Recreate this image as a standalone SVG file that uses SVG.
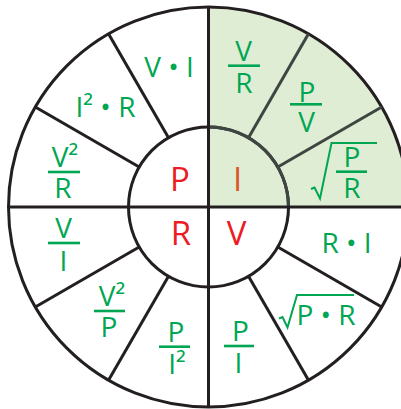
<svg xmlns="http://www.w3.org/2000/svg" width="401" height="409" viewBox="0 0 401 409">
<style>
.ln{stroke:#231f20;stroke-width:3;fill:none}
.lg{stroke:#3f4541;stroke-width:3;fill:none}
.t{font-family:"Open Sans","Liberation Sans",sans-serif;font-size:28px;fill:#00a651;text-anchor:middle}
.c{font-family:"Open Sans","Liberation Sans",sans-serif;font-size:33px;text-anchor:middle}
.bar{stroke:#00a651;stroke-width:2.6;fill:none}
.rad{stroke:#00a651;stroke-width:2;fill:none;stroke-linejoin:miter}
</style>
<rect width="401" height="409" fill="#ffffff"/>
<g id="wheel">
<path d="M208.5,207 L208.5,7 A200,200 0 0 1 408.5,207 Z" fill="#e0edd5"/>
<circle class="ln" cx="208.5" cy="207" r="200"/>
<circle class="ln" cx="208.5" cy="207" r="80"/>
<path class="lg" d="M208.5,127 A80,80 0 0 1 288.5,207"/>
<line class="ln" x1="208.5" y1="7" x2="208.5" y2="407"/>
<line class="ln" x1="8.5" y1="207" x2="408.5" y2="207"/>
<line class="lg" x1="277.8" y1="167" x2="381.7" y2="107"/>
<line class="lg" x1="248.5" y1="137.7" x2="308.5" y2="33.8"/>
<line class="ln" x1="168.5" y1="137.7" x2="108.5" y2="33.8"/>
<line class="ln" x1="139.2" y1="167" x2="35.3" y2="107"/>
<line class="ln" x1="139.2" y1="247" x2="35.3" y2="307"/>
<line class="ln" x1="168.5" y1="276.3" x2="108.5" y2="380.2"/>
<line class="ln" x1="248.5" y1="276.3" x2="308.5" y2="380.2"/>
<line class="ln" x1="277.8" y1="247" x2="381.7" y2="307"/>
</g>
<g id="center-P"><text class="c" x="180" y="190.5" fill="#ed1c24">P</text></g>
<g id="center-I"><text class="c" x="237.5" y="190.5" fill="#d95a2b">I</text></g>
<g id="center-R"><text class="c" x="181" y="245" fill="#ed1c24">R</text></g>
<g id="center-V"><text class="c" x="236.5" y="245" fill="#ed1c24">V</text></g>
<g id="p-vi"><text class="t" x="169" y="77">V • I</text></g>
<g id="p-i2r"><text class="t" x="105.5" y="117">I² • R</text></g>
<g id="p-v2r">
<text class="t" x="65" y="167">V²</text>
<line class="bar" x1="48" y1="172" x2="80" y2="172"/>
<text class="t" x="63" y="198">R</text>
</g>
<g id="i-vr">
<text class="t" x="243.5" y="61">V</text>
<line class="bar" x1="228" y1="65.7" x2="260" y2="65.7"/>
<text class="t" x="244" y="93">R</text>
</g>
<g id="i-pv">
<text class="t" x="307" y="102">P</text>
<line class="bar" x1="290" y1="104.3" x2="322" y2="104.3"/>
<text class="t" x="306.5" y="131.7">V</text>
</g>
<g id="i-sqrtpr">
<polyline class="rad" points="311,189 314.5,187.5 320,198.5 331.5,143 377,143"/>
<text class="t" x="352" y="166.7">P</text>
<line class="bar" x1="336" y1="171.7" x2="367" y2="171.7"/>
<text class="t" x="352" y="198">R</text>
</g>
<g id="r-vi">
<text class="t" x="63.5" y="238">V</text>
<line class="bar" x1="48" y1="243" x2="80" y2="243"/>
<text class="t" x="63.5" y="270.7">I</text>
</g>
<g id="r-v2p">
<text class="t" x="112" y="306">V²</text>
<line class="bar" x1="94" y1="311" x2="125" y2="311"/>
<text class="t" x="109" y="337">P</text>
</g>
<g id="r-pi2">
<text class="t" x="176" y="342">P</text>
<line class="bar" x1="159" y1="346.7" x2="190" y2="346.7"/>
<text class="t" x="177" y="374">I²</text>
</g>
<g id="v-pi">
<text class="t" x="240.5" y="340.7">P</text>
<line class="bar" x1="224" y1="346" x2="254" y2="346"/>
<text class="t" x="238.5" y="373">I</text>
</g>
<g id="v-sqrtpr">
<polyline class="rad" points="279,318.5 282.5,317 287.5,327.5 297,295 354,295"/>
<text class="t" x="326" y="325">P • R</text>
</g>
<g id="v-ri"><text class="t" x="346.5" y="252.7">R • I</text></g>
</svg>
